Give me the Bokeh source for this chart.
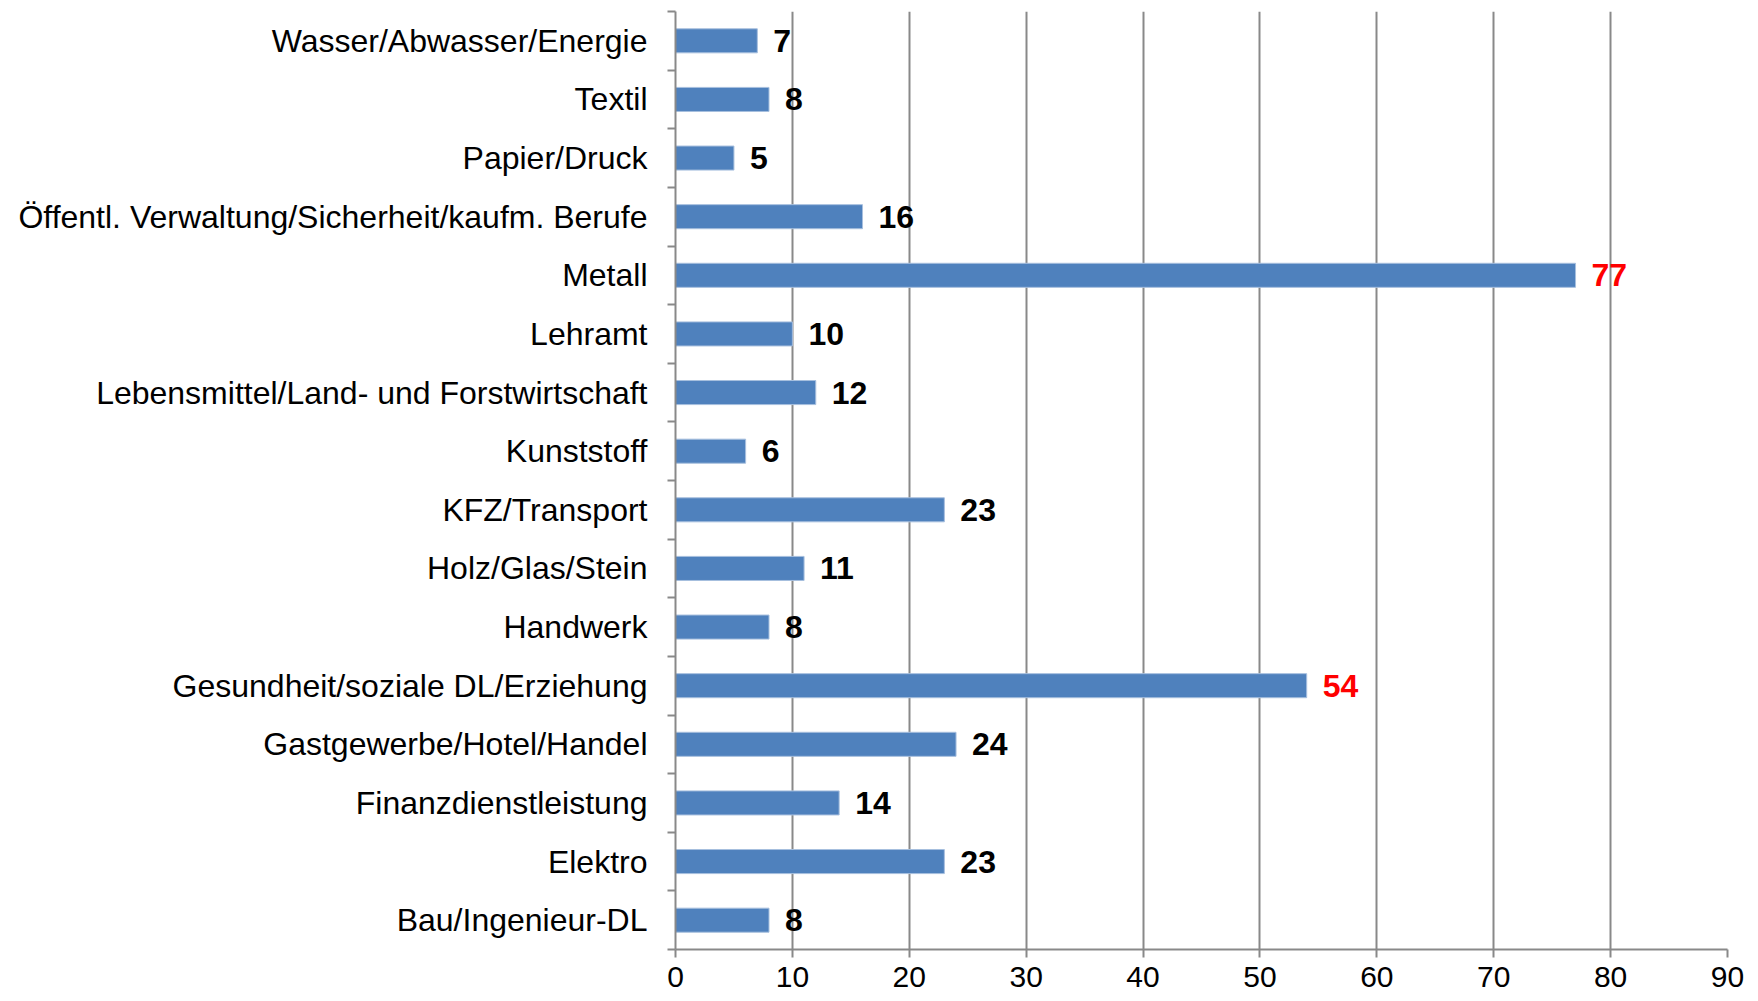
from bokeh.plotting import figure
from bokeh.models import ColumnDataSource, FixedTicker, Range1d
from bokeh.core.properties import value
from bokeh.embed import file_html
from bokeh.resources import INLINE

categories = [
    "Bau/Ingenieur-DL",
    "Elektro",
    "Finanzdienstleistung",
    "Gastgewerbe/Hotel/Handel",
    "Gesundheit/soziale DL/Erziehung",
    "Handwerk",
    "Holz/Glas/Stein",
    "KFZ/Transport",
    "Kunststoff",
    "Lebensmittel/Land- und Forstwirtschaft",
    "Lehramt",
    "Metall",
    "Öffentl. Verwaltung/Sicherheit/kaufm. Berufe",
    "Papier/Druck",
    "Textil",
    "Wasser/Abwasser/Energie",
]
counts = [8, 23, 14, 24, 54, 8, 11, 23, 6, 12, 10, 77, 16, 5, 8, 7]
highlighted = ["Metall", "Gesundheit/soziale DL/Erziehung"]
x_ticks = [0, 10, 20, 30, 40, 50, 60, 70, 80, 90]

FONT = "Liberation Sans"
GRAY = "#898989"

pos = list(range(len(categories)))
label_colors = ["#FF0000" if c in highlighted else "#000000" for c in categories]
src = ColumnDataSource(dict(
    y=pos, v=counts, txt=[str(v) for v in counts], col=label_colors,
))

p = figure(
    width=1750, height=1001,
    x_range=Range1d(0, 90), y_range=Range1d(-0.5, len(categories) - 0.5),
    output_backend="svg", toolbar_location=None,
    min_border_left=675, min_border_right=23, min_border_top=11, min_border_bottom=52,
)
p.outline_line_color = None
p.background_fill_color = "white"

p.hbar(y="y", right="v", left=0, height=0.41, source=src,
       fill_color="#4F81BD", line_color="#A7BFDE", line_width=1)

p.text(x="v", y="y", text="txt", source=src, x_offset=16,
       text_align="left", text_baseline="middle",
       text_font=value(FONT), text_font_style="bold",
       text_font_size="32px", text_color="col")

# x axis
p.xaxis.ticker = FixedTicker(ticks=x_ticks)
p.xaxis.axis_line_color = GRAY
p.xaxis.axis_line_width = 2
p.xaxis.major_tick_line_color = GRAY
p.xaxis.major_tick_line_width = 2
p.xaxis.major_tick_out = 8
p.xaxis.major_tick_in = 0
p.xaxis.minor_tick_line_color = None
p.xaxis.major_label_text_font = FONT
p.xaxis.major_label_text_font_size = "30px"
p.xaxis.major_label_text_color = "#000000"
p.xaxis.major_label_standoff = 9

# y axis: labels at centers, ticks at boundaries
boundaries = [i - 0.5 for i in range(len(categories) + 1)]
p.yaxis.ticker = FixedTicker(ticks=pos, minor_ticks=boundaries)
p.yaxis.major_label_overrides = {i: c for i, c in zip(pos, categories)}
p.yaxis.axis_line_color = GRAY
p.yaxis.axis_line_width = 2
p.yaxis.major_tick_line_color = None
p.yaxis.major_tick_out = 0
p.yaxis.major_tick_in = 0
p.yaxis.minor_tick_line_color = GRAY
p.yaxis.minor_tick_line_width = 2
p.yaxis.minor_tick_out = 8
p.yaxis.minor_tick_in = 0
p.yaxis.major_label_text_font = FONT
p.yaxis.major_label_text_font_size = "32px"
p.yaxis.major_label_text_color = "#000000"
p.yaxis.major_label_standoff = 20

p.xgrid.ticker = FixedTicker(ticks=x_ticks)
p.xgrid.grid_line_color = GRAY
p.xgrid.grid_line_width = 2
p.ygrid.grid_line_color = None

open("out.html", "w").write(file_html(p, INLINE))
